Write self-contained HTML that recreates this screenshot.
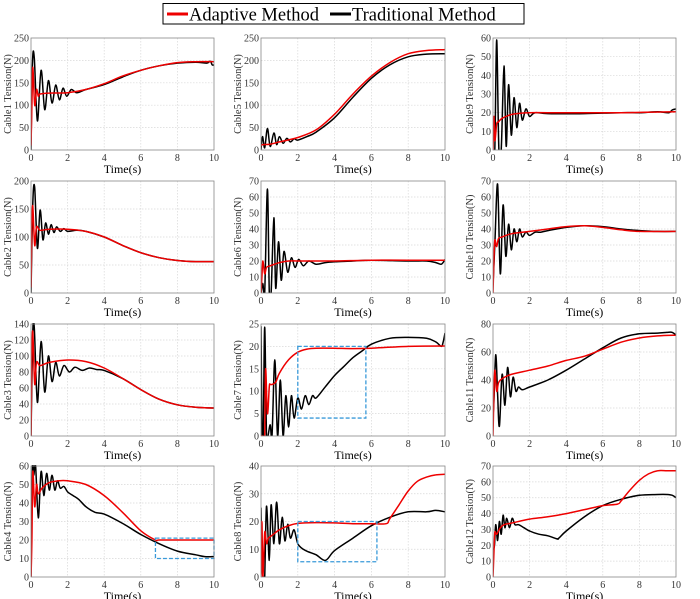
<!DOCTYPE html>
<html><head><meta charset="utf-8"><style>
html,body{margin:0;padding:0;background:#fff;}
svg{display:block;font-family:"Liberation Serif",serif;}
svg text{font-family:"Liberation Serif",serif;}
</style></head><body>
<svg id="fig" width="700" height="599" viewBox="0 0 700 599">
  <g>
    <rect x="163" y="3.5" width="361" height="20.5" fill="#fff" stroke="#000" stroke-width="1"/>
    <line x1="167" y1="14" x2="188" y2="14" stroke="#e00" stroke-width="3"/>
    <text x="189" y="20.5" font-size="18.5">Adaptive Method</text>
    <line x1="330" y1="14" x2="351" y2="14" stroke="#000" stroke-width="3"/>
    <text x="352" y="20.5" font-size="18.5">Traditional Method</text>
  </g>
</svg>
<script>
const NS="http://www.w3.org/2000/svg";
const cableLabels=["Cable1","Cable5","Cable9","Cable2","Cable6","Cable10","Cable3","Cable7","Cable11","Cable4","Cable8","Cable12"];
const yMaxes=[250,250,60,200,70,70,140,25,80,60,40,70];
const ySteps=[50,50,10,50,10,10,20,5,20,10,10,10];
const xTicks=[0,2,4,6,8,10];

// Cable1
const p1RedT=[0,0.05,0.1,0.2,0.3,0.4,0.5,1,2,3,4,5,6,7,8,9,10];
const p1RedY=[10,100,185,100,135,120,125,127,128,135,148,165,178,188,195,197,197];
const p1BlkT=[0,0.08,0.18,0.35,0.55,0.75,0.95,1.15,1.35,1.55,1.75,1.95,2.2,2.5,3,4,5,6,7,8,9,9.6,9.8,9.9,10];
const p1BlkY=[0,195,205,65,178,90,155,105,145,112,138,120,135,128,135,146,163,178,188,194,196,194,198,190,190];
// Cable5
const p5RedT=[0,0.1,0.5,1,2,3,4,5,6,7,8,9,10];
const p5RedY=[10,12,13,18,28,45,80,125,165,195,215,222,224];
const p5BlkT=[0,0.08,0.2,0.35,0.5,0.7,0.85,1,1.2,1.4,1.6,1.8,2,2.5,3,4,5,6,7,8,9,10];
const p5BlkY=[0,30,5,48,8,38,12,30,15,26,18,25,22,30,40,72,118,160,190,208,214,215];
// Cable9
const p9RedT=[0,0.05,0.1,0.2,0.3,0.5,1,1.5,2,3,5,7,10];
const p9RedY=[0,18,5,14,15,17,19,19.7,20,20,20,20,20.5];
const p9BlkT=[0,0.1,0.2,0.32,0.45,0.6,0.72,0.85,1.0,1.15,1.3,1.45,1.6,1.8,2,2.3,3,5,7,8,9,9.6,9.8,10];
const p9BlkY=[0,0,59,0,0,45,2,35,8,28,12,25,16,22,18,20,19.5,19.5,20,20,20.5,20,21.5,22];
// Cable2
const p2RedT=[0,0.05,0.1,0.2,0.3,0.5,1,2,3,4,5,6,7,8,9,10];
const p2RedY=[10,120,155,85,118,112,114,114,110,100,85,72,63,58,56,56];
const p2BlkT=[0,0.1,0.2,0.35,0.5,0.65,0.8,0.95,1.1,1.25,1.4,1.6,1.8,2.0,2.5,3,4,5,6,7,8,9,10];
const p2BlkY=[0,160,188,80,148,95,125,105,122,108,118,110,115,110,112,110,100,85,72,63,58,56,56];
// Cable6
const p6RedT=[0,0.05,0.1,0.2,0.3,0.5,1,1.5,2,3,4,6,8,10];
const p6RedY=[0,10,20,12,16,17,19,20,20,20,20,20.5,20.5,20.5];
const p6BlkT=[0,0.1,0.2,0.35,0.45,0.55,0.7,0.8,0.95,1.1,1.25,1.45,1.65,1.85,2.05,2.3,2.6,3,3.5,4,5,6,8,9,9.5,9.8,10];
const p6BlkY=[0,6,0,65,0,0,47,3,32,8,26,13,22,16,21,17,20,18,19,19.5,20,20.5,20,20,19,18,21];
// Cable10
const p10RedT=[0,0.05,0.1,0.2,0.3,0.5,1,2,3,4,5,6,7,8,10];
const p10RedY=[0,20,33,29,34,35,37,38.5,40,41.5,42,41,39.5,38.5,38.5];
const p10BlkT=[0,0.1,0.25,0.4,0.55,0.7,0.85,1.0,1.15,1.3,1.45,1.6,1.8,2,2.3,2.6,3,4,5,6,7,8,9,10];
const p10BlkY=[5,30,68,12,55,23,43,27,40,32,40,35,38,36,38,38,39,41,42,41.5,40,39,38.5,38.5];
// Cable3
const p3RedT=[0,0.05,0.1,0.2,0.3,0.5,1,2,3,4,5,6,7,8,9,10];
const p3RedY=[0,100,130,65,92,88,92,95,93,85,72,58,46,39,36,35];
const p3BlkT=[0,0.1,0.18,0.35,0.55,0.75,0.95,1.15,1.35,1.55,1.8,2.1,2.4,2.8,3.2,3.6,4,5,6,7,8,9,10];
const p3BlkY=[0,130,135,42,118,55,100,68,92,75,88,80,86,82,85,83,82,72,58,46,39,36,35];
// Cable7
const p7RedT=[0,0.05,0.1,0.2,0.25,0.35,0.45,0.5,0.6,0.8,1,1.5,2,2.5,3,4,5,6,8,10];
const p7RedY=[0,0,0,0,15,5,11,11.5,11.5,12,14,17,18.7,19.4,19.6,19.6,19.5,19.6,20,20.1];
const p7BlkT=[0,0.05,0.12,0.2,0.3,0.38,0.5,0.6,0.75,0.9,1.05,1.2,1.35,1.5,1.65,1.8,2.0,2.2,2.4,2.6,2.8,3,3.5,4,4.5,5,5.5,6,7,8,9,9.5,9.8,9.9,10];
const p7BlkY=[24.5,3,0,24.3,0,0,2.5,0,17,0,12.5,0,9,2,9,4,8.5,6,9,7,9,8.5,11,13.5,15.5,17.5,19,20.5,21.8,22,21.8,21,20,21,23];
// Cable11
const p11RedT=[0,0.05,0.1,0.2,0.3,0.5,1,2,3,4,5,6,7,8,9,10];
const p11RedY=[0,30,47,32,38,41,44,47,50,54,57,62,67,70,71.5,72];
const p11BlkT=[0,0.05,0.15,0.25,0.35,0.5,0.65,0.8,0.95,1.1,1.25,1.4,1.6,2,3,4,5,6,7,8,9,9.5,9.8,10];
const p11BlkY=[15,25,58,30,7,44,22,49,28,42,32,35,33,35,40,47,55,63,70,73,73.5,74,74,72];
// Cable4
const p4RedT=[0,0.05,0.1,0.2,0.3,0.4,0.6,1,1.5,2,3,4,5,6,6.8,7,8,9,10];
const p4RedY=[0,20,57,38,50,45,48,51,52,52,50,44,35,25,20,20,20,20,20];
const p4BlkT=[0,0.08,0.15,0.25,0.4,0.55,0.7,0.85,1.0,1.15,1.3,1.45,1.6,1.8,2,2.3,2.6,3,3.5,4,5,6,7,8,9,9.5,10];
const p4BlkY=[0,60,55,60,32,57,44,56,47,55,47,52,48,49,46,44,42,38,35,34,29,23,18,14,12,11,11];
// Cable8
const p8RedT=[0,0.05,0.1,0.2,0.3,0.4,0.6,1,1.5,2,3,4,5,6,6.8,7,7.5,8,8.5,9,9.5,10];
const p8RedY=[0,20,0,16,12,14,15,17,18.5,19.3,19.6,19.5,19.2,19.2,19.2,21,26,31,34.5,36,36.8,37];
const p8BlkT=[0,0.05,0.12,0.2,0.3,0.45,0.55,0.7,0.85,1.0,1.15,1.3,1.45,1.6,1.8,2,2.3,2.6,3,3.5,4,5,6,7,8,9,9.5,10];
const p8BlkY=[25,5,0,0,25.5,6,26,12,27,12,21.5,13,19,14,17,12,10,9,8,6,9.5,14,18.5,21.5,23.5,23.5,24,23.5];
// Cable12
const p12RedT=[0,0.05,0.1,0.2,0.4,0.6,1,2,3,4,5,6,6.8,7,7.5,8,8.5,9,9.5,10];
const p12RedY=[0,15,28,27,31,33,34,36.5,38,40,42.5,45,46,48,55,61,65,67,67,67];
const p12BlkT=[0,0.08,0.15,0.25,0.35,0.45,0.55,0.65,0.75,0.9,1.05,1.2,1.4,1.7,2,2.5,3,3.5,3.6,4,5,6,7,8,9,9.5,9.8,10];
const p12BlkY=[17,20,33,23,35,27,39,31,37,31,37,33,33,31,29,27,26,24,24.5,29,38,45,49,51.5,52,52,51.5,50];

const zoomPanels=[9,7,10];
const zoomX0=[6.8,2,2];
const zoomX1=[10,5.7,6.3];
const zoomY0=[10,4,5.5];
const zoomY1=[21,20,20];

const series=[
 [p1RedT,p1RedY,p1BlkT,p1BlkY],[p5RedT,p5RedY,p5BlkT,p5BlkY],[p9RedT,p9RedY,p9BlkT,p9BlkY],
 [p2RedT,p2RedY,p2BlkT,p2BlkY],[p6RedT,p6RedY,p6BlkT,p6BlkY],[p10RedT,p10RedY,p10BlkT,p10BlkY],
 [p3RedT,p3RedY,p3BlkT,p3BlkY],[p7RedT,p7RedY,p7BlkT,p7BlkY],[p11RedT,p11RedY,p11BlkT,p11BlkY],
 [p4RedT,p4RedY,p4BlkT,p4BlkY],[p8RedT,p8RedY,p8BlkT,p8BlkY],[p12RedT,p12RedY,p12BlkT,p12BlkY]];

const colL=[31,261,493], colR=[214,445,676];
const rowT=[38,181,324,466], rowB=[150,293,436,577];
const svg=document.getElementById('fig');
function mk(tag,attrs,parent){const e=document.createElementNS(NS,tag);for(const k in attrs)e.setAttribute(k,attrs[k]);(parent||svg).appendChild(e);return e;}
function smoothPath(P){
  let d='M'+P[0][0].toFixed(1)+','+P[0][1].toFixed(1);
  for(let k=0;k<P.length-1;k++){
    const p0=P[k-1]||P[k],p1=P[k],p2=P[k+1],p3=P[k+2]||P[k+1];
    const c1x=p1[0]+(p2[0]-p0[0])/6,c1y=p1[1]+(p2[1]-p0[1])/6;
    const c2x=p2[0]-(p3[0]-p1[0])/6,c2y=p2[1]-(p3[1]-p1[1])/6;
    d+=' C'+c1x.toFixed(1)+','+c1y.toFixed(1)+' '+c2x.toFixed(1)+','+c2y.toFixed(1)+' '+p2[0].toFixed(1)+','+p2[1].toFixed(1);
  }
  return d;
}

for(let i=0;i<12;i++){
  const c=i%3,r=Math.floor(i/3);
  const L=colL[c],R=colR[c],T=rowT[r],B=rowB[r];
  const ymax=yMaxes[i],ys=ySteps[i];
  const sx=t=>L+(t/10)*(R-L);
  const sy=v=>B-(v/ymax)*(B-T);
  const g=mk('g',{});
  
  
  mk('rect',{x:L,y:T,width:R-L,height:B-T,fill:'#fff'},g);
  for(const t of xTicks){
    if(t>0&&t<10){const gl=mk('line',{x1:sx(t),x2:sx(t),y1:T,y2:B,stroke:'#d8d8d8','stroke-width':0.7,'stroke-dasharray':'1.5,1.5'},g);
    
    }
    const tl=mk('text',{x:sx(t),y:B+11,'font-size':10,'text-anchor':'middle',fill:'#333'},g);tl.textContent=t;
    
    
  }
  for(let v=0;v<=ymax+1e-9;v+=ys){
    if(v>0&&v<ymax){const gl=mk('line',{x1:L,x2:R,y1:sy(v),y2:sy(v),stroke:'#d8d8d8','stroke-width':0.7,'stroke-dasharray':'1.5,1.5'},g);
    
    }
    const tl=mk('text',{x:L-2,y:sy(v)+3.5,'font-size':10,'text-anchor':'end',fill:'#333'},g);tl.textContent=v;
    
    
  }
  const [rt,ry,bt,by]=series[i];
  const pts=(ts,vs)=>ts.map((t,k)=>[sx(t),sy(vs[k])]);
  const cp='clip'+i;
  const cl=mk('clipPath',{id:cp},g);mk('rect',{x:L,y:T-1,width:R-L,height:B-T+1},cl);
  const bl=mk('path',{d:smoothPath(pts(bt,by)),fill:'none',stroke:'#000','stroke-width':1.5,'stroke-linejoin':'round','clip-path':'url(#'+cp+')'},g);
  
  
  const rl=mk('path',{d:smoothPath(pts(rt,ry)),fill:'none',stroke:'#e00','stroke-width':1.5,'stroke-linejoin':'round','clip-path':'url(#'+cp+')'},g);
  
  
  const zi=zoomPanels.indexOf(i);
  if(zi>=0){
    const zb=mk('rect',{x:sx(zoomX0[zi]),y:sy(zoomY1[zi]),width:sx(zoomX1[zi])-sx(zoomX0[zi]),height:sy(zoomY0[zi])-sy(zoomY1[zi]),fill:'none',stroke:'#3a9ad9','stroke-width':1.3,'stroke-dasharray':'4,2'},g);
    
    
  }
  const fr=mk('rect',{x:L,y:T,width:R-L,height:B-T,fill:'none',stroke:'#888','stroke-width':0.8},g);
  
  
  const xl=mk('text',{x:(L+R)/2,y:B+23,'font-size':12,'text-anchor':'middle'},g);xl.textContent='Time(s)';
  
  
  const yl=mk('text',{x:0,y:0,'font-size':10.5,'text-anchor':'middle',fill:'#333',transform:'translate('+(L-20)+','+((T+B)/2)+') rotate(-90)'},g);
  yl.textContent=cableLabels[i]+' Tension(N)';
  
  
}
</script>
</body></html>
